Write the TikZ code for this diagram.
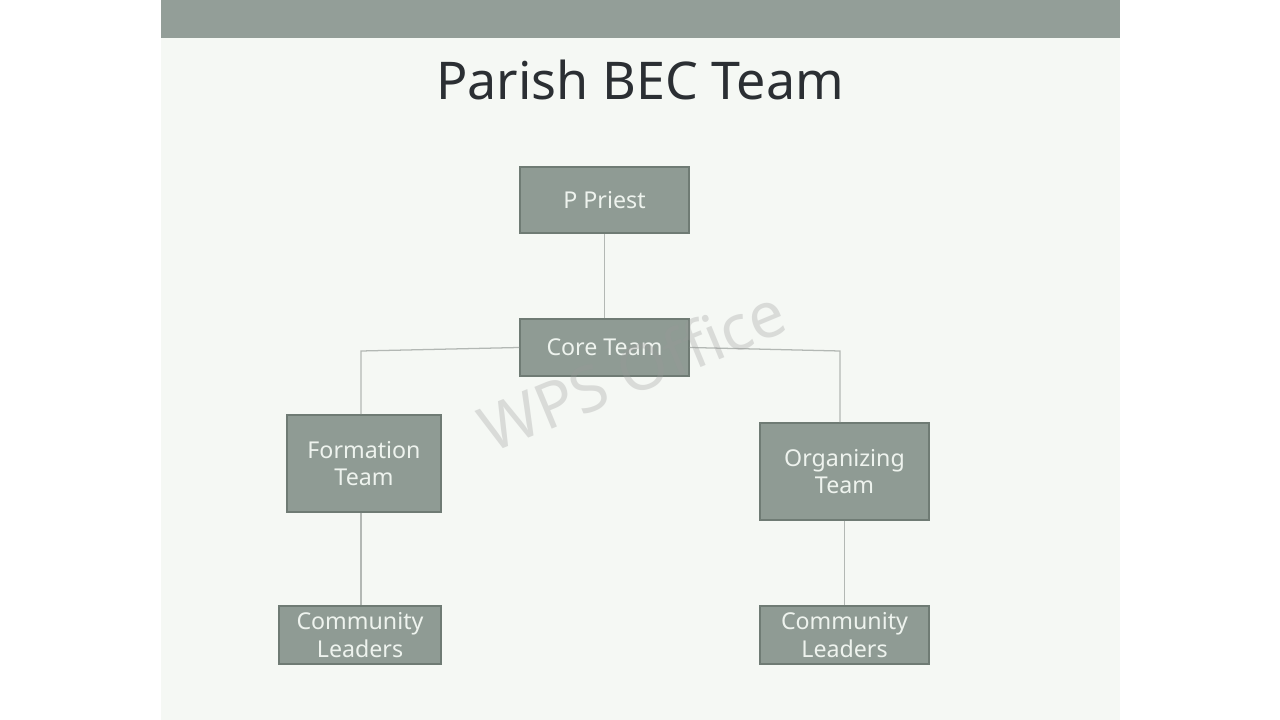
\documentclass[tikz,border=0pt]{standalone}
\usepackage{fontspec}
\setmainfont{Noto Sans}
\usepackage{tikz}
\usetikzlibrary{positioning}

\definecolor{slidebg}{HTML}{F5F8F4}
\definecolor{barcol}{HTML}{939E98}
\definecolor{boxfill}{HTML}{8F9B94}
\definecolor{boxline}{HTML}{6F7B74}
\definecolor{boxtext}{HTML}{EEF3EE}
\definecolor{linkcol}{HTML}{B3B8B4}
\definecolor{titlecol}{HTML}{2B2F33}

\tikzset{
  teambox/.style={draw=boxline, line width=1.3pt, fill=boxfill, text=boxtext,
    align=center, inner sep=0pt, font=\fontsize{16.5}{19.5}\selectfont},
  link/.style={draw=linkcol, line width=0.9pt}
}

\begin{document}
\begin{tikzpicture}[x=0.025cm, y=0.025cm]
        % page and slide
        \useasboundingbox (0,0) rectangle (1280,-720);
        \fill [white] (0,0) rectangle (1280,-720);
        \fill [slidebg] (161,0) rectangle (1120,-720);
        \fill [barcol] (161,0) rectangle (1120,-38);
        \node (title) at (640,-80) {\fontsize{37}{44}\selectfont\color{titlecol}Parish BEC Team};
        % boxes
        \node [teambox, minimum width=4.225cm, minimum height=1.65cm] (priest) at (604.5,-200) {P Priest};
        \node [teambox, minimum width=4.225cm, minimum height=1.425cm] (core) at (604.5,-347.5) {Core Team};
        \node [teambox, minimum width=3.85cm, minimum height=2.425cm] (form) at (364,-463.5) {Formation\\Team};
        \node [teambox, minimum width=4.225cm, minimum height=2.425cm] (org) at (844.5,-471.5) {Organizing\\Team};
        \node [teambox, minimum width=4.05cm, minimum height=1.45cm] (leadl) at (360,-635) {Community\\Leaders};
        \node [teambox, minimum width=4.225cm, minimum height=1.45cm] (leadr) at (844.5,-635) {Community\\Leaders};
        % connectors
        \coordinate (jl) at (361,-351);
        \coordinate (jr) at (840,-351);
        \draw [link] (priest.south) -- (core.north);
        \draw [link] (core.west) -- (jl) -- (jl |- form.north);
        \draw [link] (core.east) -- (jr) -- (jr |- org.north);
        \draw [link] (form.south -| jl) -- (jl |- leadl.north);
        \draw [link] (org.south) -- (leadr.north);
        % watermark
        \node [rotate=22.5, text=black!40, opacity=0.3] (mark) at (632,-370) {\fontsize{45}{54}\selectfont WPS Office};
        \end{tikzpicture}
\end{document}
